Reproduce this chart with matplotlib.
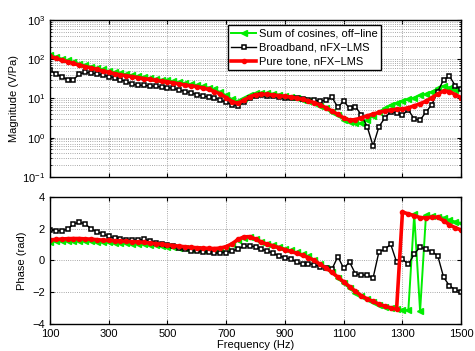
import numpy as np
import matplotlib
matplotlib.use("Agg")
import matplotlib.pyplot as plt
from matplotlib.ticker import LogLocator, NullFormatter

plt.rcParams['font.family'] = ['Liberation Sans', 'DejaVu Sans']
plt.rcParams['font.size'] = 8

freq = np.arange(100, 1501, 20)

# magnitude (V/Pa)
mag_cos = [130, 116, 104, 94, 85, 77, 70, 65, 60, 55, 50, 47, 44, 41, 39, 37,
           35, 33, 31.5, 30, 29, 27.5, 26, 24.5, 23, 22, 20.5, 19, 17, 14.5,
           12, 9.5, 8.5, 10, 12, 13.5, 14, 13.8, 13.2, 12.5, 11.8, 11, 10,
           9, 8.5, 7.6, 6.6, 5.6, 4.6, 3.7, 2.9, 2.5, 2.3, 2.3, 2.8, 3.6, 4.6,
           5.6, 6.8, 7.8, 8.5, 9.5, 10.5, 12, 13, 15, 18, 21, 19, 16, 19]
mag_bb = [53, 42, 36, 30, 30, 42, 46, 45, 42, 39, 36, 34, 30, 27, 23, 22,
          21.5, 21, 20.5, 19.5, 19, 18, 16.5, 15, 14, 12.5, 11.5, 11, 10.5,
          9, 8, 7, 6.6, 8, 10, 11.5, 12, 11.8, 11.5, 11, 10.5, 10.2, 10, 9.5,
          9.2, 9, 8.5, 9, 10.7, 6, 8.5, 5.6, 6.2, 3.8, 1.9, 0.62, 1.9, 3.2,
          4.6, 4.2, 3.8, 5.1, 3.0, 2.8, 4.5, 7, 15, 30, 37, 21, 17, 11][:71]
mag_pt = [118, 105, 95, 86, 78, 71, 65, 60, 55, 50, 46, 43, 40, 38, 36, 34,
          32, 30.5, 29, 27.5, 26.5, 25, 23.5, 22, 21, 20, 18.5, 17, 15, 13,
          10.5, 8.3, 7.5, 9, 11, 12.5, 12.8, 12.7, 12.3, 11.8, 11.3, 10.8,
          10.2, 9.5, 8.7, 7.8, 6.8, 5.8, 4.8, 3.9, 3.2, 2.8, 2.9, 3.2, 3.6,
          4.0, 4.4, 4.8, 5.1, 5.3, 5.4, 5.8, 6.5, 7.3, 8.5, 10.5, 13, 15.5,
          15, 12.5, 10.5]

# phase (rad)
ph_cos = [1.18, 1.20, 1.22, 1.24, 1.25, 1.25, 1.24, 1.22, 1.19, 1.16, 1.14,
          1.12, 1.10, 1.08, 1.06, 1.04, 1.01, 0.98, 0.95, 0.91, 0.87, 0.83,
          0.79, 0.76, 0.73, 0.70, 0.68, 0.67, 0.68, 0.74, 0.85, 1.02, 1.28,
          1.44, 1.46, 1.33, 1.16, 1.05, 0.96, 0.85, 0.74, 0.63, 0.52, 0.40,
          0.25, 0.05, -0.22, -0.45, -0.75, -1.1, -1.45, -1.75, -2.05, -2.25,
          -2.45, -2.62, -2.78, -2.9, -3.0, -3.05, -3.1, -3.15, 2.9, -3.2,
          2.85, 2.8, 2.75, 2.7, 2.55, 2.45, 2.35]
ph_bb = [1.92, 1.86, 1.88, 1.95, 2.30, 2.40, 2.30, 2.00, 1.80, 1.68, 1.52,
         1.42, 1.35, 1.30, 1.28, 1.28, 1.32, 1.25, 1.12, 1.03, 0.97, 0.88,
         0.78, 0.70, 0.62, 0.58, 0.55, 0.52, 0.45, 0.48, 0.50, 0.58, 0.72,
         0.88, 0.92, 0.85, 0.70, 0.60, 0.45, 0.28, 0.18, 0.08, -0.10, -0.25,
         -0.20, -0.28, -0.39, -0.45, -0.55, 0.24, -0.49, -0.10, -0.85, -0.92,
         -0.92, -1.10, 0.55, 0.70, 1.02, -0.10, 0.10, -0.25, 0.40, 0.85,
         0.70, 0.55, 0.30, -1.05, -1.60, -1.85, -1.97]
ph_pt = [1.30, 1.32, 1.35, 1.37, 1.38, 1.38, 1.36, 1.34, 1.31, 1.28, 1.26,
         1.24, 1.22, 1.20, 1.18, 1.16, 1.13, 1.10, 1.06, 1.02, 0.98, 0.94,
         0.90, 0.86, 0.83, 0.80, 0.78, 0.76, 0.75, 0.78, 0.87, 1.05, 1.32,
         1.48, 1.50, 1.35, 1.15, 1.02, 0.92, 0.80, 0.68, 0.57, 0.45, 0.32,
         0.18, 0.0, -0.25, -0.47, -0.75, -1.05, -1.35, -1.65, -1.95, -2.22,
         -2.42, -2.58, -2.75, -2.88, -2.98, -3.08, 3.05, 2.93, 2.82, 2.70,
         2.68, 2.72, 2.72, 2.50, 2.25, 2.05, 1.92]

labels = ['Sum of cosines, off\u2212line', 'Broadband, nFX\u2212LMS',
          'Pure tone, nFX\u2212LMS']

fig = plt.figure(figsize=(4.75, 3.51), dpi=100)
ax1 = fig.add_axes([0.105, 0.496, 0.866, 0.447])
ax2 = fig.add_axes([0.105, 0.077, 0.866, 0.362])


def draw(ax, g, k, r):
    ax.plot(freq, g, ls='-', marker='<', color='#00ee00', lw=1.4, ms=5,
            mec='#00ee00', label=labels[0])
    ax.plot(freq, k, ls='-', marker='s', color='black', lw=1.0, ms=3.5,
            mfc='white', mec='black', mew=1.1, label=labels[1])
    ax.plot(freq, r, ls='-', marker='.', color='red', lw=2.6, ms=6,
            label=labels[2])
    ax.set_xlim(100, 1500)
    ax.set_xticks(np.arange(100, 1501, 200))
    ax.tick_params(direction='in', top=True, right=True, width=0.8,
                   length=3, labelsize=8)
    for s in ax.spines.values():
        s.set_linewidth(1.0)


draw(ax1, mag_cos, mag_bb, mag_pt)
ax1.set_yscale('log')
ax1.set_ylim(0.1, 1000)
ax1.yaxis.set_major_locator(LogLocator(base=10, numticks=10))
ax1.yaxis.set_minor_locator(LogLocator(base=10, subs=np.arange(2, 10), numticks=50))
ax1.yaxis.set_minor_formatter(NullFormatter())
ax1.tick_params(which='minor', direction='in', right=True, length=1.5)
ax1.set_xticklabels([])
ax1.grid(True, which='major', ls=':', color='0.55', lw=0.6)
ax1.grid(True, which='minor', axis='y', ls=':', color='0.55', lw=0.6)
ax1.set_ylabel('Magnitude (V/Pa)', labelpad=2)
ax1.legend(loc='upper left', bbox_to_anchor=(0.433, 0.965), borderaxespad=0,
           fancybox=False, edgecolor='black', framealpha=1, fontsize=8,
           borderpad=0.3, labelspacing=0.35, handlelength=2.2,
           handletextpad=0.3)

draw(ax2, ph_cos, ph_bb, ph_pt)
ax2.set_ylim(-4, 4)
ax2.set_yticks([-4, -2, 0, 2, 4])
ax2.grid(True, ls=':', color='0.55', lw=0.6)
ax2.set_ylabel('Phase (rad)', labelpad=4)
ax2.set_xlabel('Frequency (Hz)', labelpad=1)

fig.savefig('out.png', dpi=100)
